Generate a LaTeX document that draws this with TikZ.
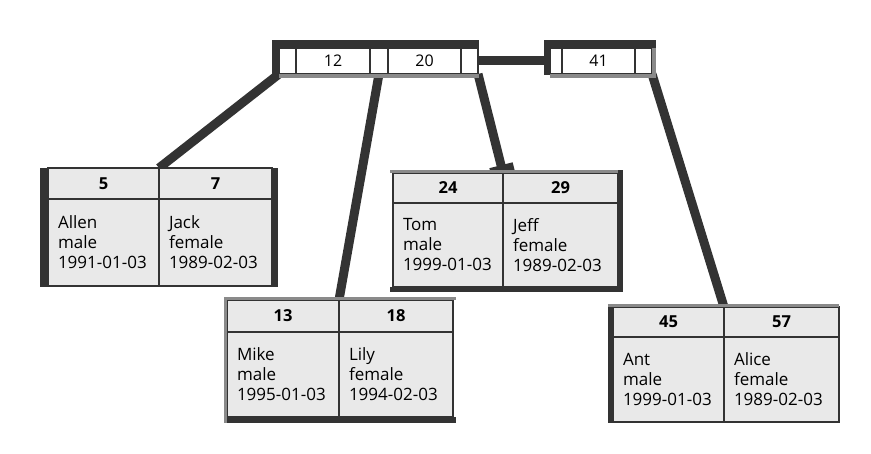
\documentclass[tikz,border=0pt]{standalone}
\usepackage{fontspec}
\setmainfont{Open Sans}
\usetikzlibrary{backgrounds,arrows.meta}
\definecolor{edge}{HTML}{333333}
\definecolor{cellgray}{HTML}{E9E9E9}
\definecolor{shadow}{HTML}{8A8A8A}
\tikzset{
  cell/.style={draw=edge, line width=1.5pt, inner sep=0pt, outer sep=0pt, anchor=north west},
  keycell/.style={cell, fill=white, minimum height=26pt, font=\fontsize{16}{18}\selectfont},
  ptrcell/.style={keycell},
  headcell/.style={cell, fill=cellgray, font=\fontsize{16.5}{18}\selectfont\bfseries},
  bodycell/.style={cell, fill=cellgray, align=left, inner xsep=10pt, font=\fontsize{17}{20}\selectfont},
  link/.style={draw=edge, line width=9pt}
}
\begin{document}
\begin{tikzpicture}[x=1pt, y=-1pt]
\useasboundingbox (0,0) rectangle (871,454);
% root node
\node[ptrcell, minimum width=17pt] (r0) at (279,48) {};
\node[keycell, minimum width=74pt] (r12) at (296,48) {12};
\node[ptrcell, minimum width=18pt] (r1) at (370,48) {};
\node[keycell, minimum width=73pt] (r20) at (388,48) {20};
\node[ptrcell, minimum width=17pt] (r2) at (461,48) {};
\fill[edge] (272,40) rectangle (479,48);
\fill[edge] (272,40) rectangle (279,75);
\fill[shadow] (279,74) rectangle (479,78);
% sibling node
\node[ptrcell, minimum width=12pt] (s0) at (550,48) {};
\node[keycell, minimum width=73pt] (s41) at (562,48) {41};
\node[ptrcell, minimum width=17pt] (s1) at (635,48) {};
\fill[edge] (544,40) rectangle (656,48);
\fill[edge] (544,40) rectangle (550,75);
\fill[shadow] (652,48) rectangle (656,78);
\fill[shadow] (550,74) rectangle (656,78);
% leaf 5 / 7
\node[headcell, minimum width=111pt, minimum height=31pt] (k5) at (48,168) {5};
\node[headcell, minimum width=113pt, minimum height=31pt] (k7) at (159,168) {7};
\node[bodycell, minimum height=87pt, text width=91pt] (d5) at (48,199) {Allen\\male\\1991-01-03};
\node[bodycell, minimum height=87pt, text width=93pt] (d7) at (159,199) {Jack\\female\\1989-02-03};
\fill[edge] (40,168) rectangle (48,287);
\fill[edge] (272,168) rectangle (278,287);
% leaf 13 / 18
\node[headcell, minimum width=112pt, minimum height=32pt] (k13) at (227,300) {13};
\node[headcell, minimum width=114pt, minimum height=32pt] (k18) at (339,300) {18};
\node[bodycell, minimum height=85pt, text width=92pt] (d13) at (227,332) {Mike\\male\\1995-01-03};
\node[bodycell, minimum height=85pt, text width=94pt] (d18) at (339,332) {Lily\\female\\1994-02-03};
\fill[shadow] (224,297) rectangle (456,300);
\fill[edge] (224,417) rectangle (456,423);
\fill[shadow] (224,297) rectangle (227,423);
% leaf 24 / 29
\node[headcell, minimum width=110pt, minimum height=30pt] (k24) at (393,173) {24};
\node[headcell, minimum width=115pt, minimum height=30pt] (k29) at (503,173) {29};
\node[bodycell, minimum height=84pt, text width=90pt] (d24) at (393,203) {Tom\\male\\1999-01-03};
\node[bodycell, minimum height=84pt, text width=95pt] (d29) at (503,203) {Jeff\\female\\1989-02-03};
\fill[shadow] (390,170) rectangle (623,173);
\fill[edge] (390,287) rectangle (623,292);
\fill[edge] (618,170) rectangle (623,292);
% leaf 45 / 57
\node[headcell, minimum width=111pt, minimum height=30pt] (k45) at (613,307) {45};
\node[headcell, minimum width=115pt, minimum height=30pt] (k57) at (724,307) {57};
\node[bodycell, minimum height=85pt, text width=91pt] (d45) at (613,337) {Ant\\male\\1999-01-03};
\node[bodycell, minimum height=85pt, text width=95pt] (d57) at (724,337) {Alice\\female\\1989-02-03};
\fill[edge] (608,304) rectangle (613,423);
\fill[shadow] (608,304) rectangle (839,307);
% links
\begin{scope}[on background layer]
\draw[link] (r2.east) -- (s0.west);
\draw[link] (r0.south west) -- (k5.north east);
\draw[link] (r1.south) -- (k13.north east);
\draw[link, -{Rectangle[width=24pt, length=8pt]}] (r2.south east) -- (k24.north east);
\draw[link] (s1.south east) -- (k45.north east);
\end{scope}
\end{tikzpicture}
\end{document}
